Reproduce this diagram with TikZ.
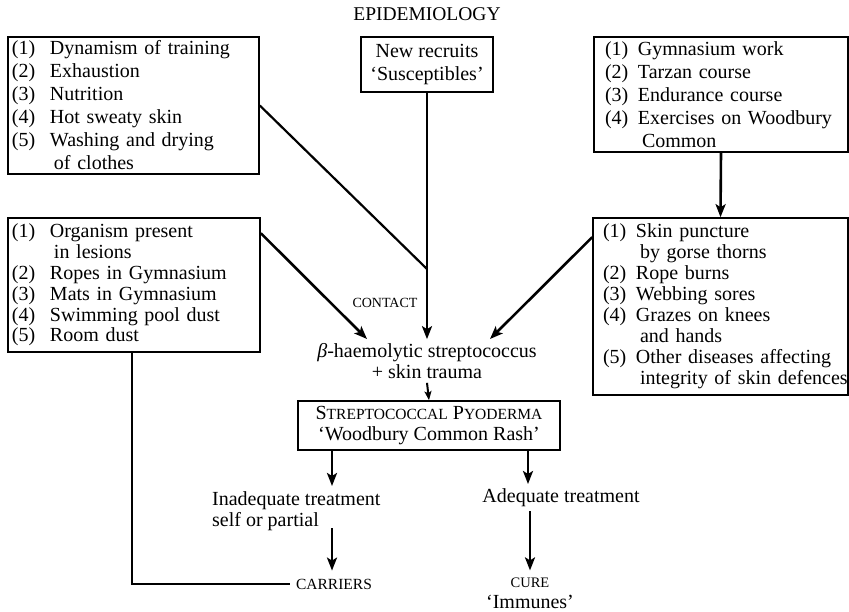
\documentclass[tikz,border=0pt]{standalone}
\usepackage{fontspec}
\setmainfont{Liberation Serif}
\usetikzlibrary{arrows.meta}
\newlength\lw \setlength\lw{38pt}
\newcommand\li[2]{\makebox[\lw][l]{(#1)}\mbox{#2}}
\newcommand\lc[1]{\hspace*{\lw}\hspace*{4pt}\mbox{#1}}
\newcommand\scs[2][14]{{\fontsize{#1}{16}\selectfont #2}}
\hbadness=10000 \hfuzz=100pt
\begin{document}
\begin{tikzpicture}[x=1pt,y=-1pt,
  box/.style={draw, line width=1.6pt, inner ysep=0pt},
  lst/.style={font=\fontsize{20}{#1}\selectfont, align=left},
  narrow/.style={font=\fontsize{20}{#1}\selectfont\setlength\lw{33pt}},
  txt/.style={inner sep=0pt, font=\fontsize{20}{21}\selectfont},
  arr/.style={line width=2.6pt, -{Stealth[length=13pt,width=10pt,inset=3pt]}},
  sarr/.style={line width=2pt, -{Stealth[length=9pt,width=7pt,inset=2pt]}},
  plain/.style={line width=2.2pt},
  thick line/.style={line width=2.8pt}]
\useasboundingbox (0,0) rectangle (849,611);

\node[txt, font=\fontsize{19.5}{21}\selectfont] (title) at (427,14) {EPIDEMIOLOGY};

\node[box, lst=23, minimum width=251pt, minimum height=137pt, text width=243pt, inner xsep=4pt] (A) at (133.5,105.5)
 {\li{1}{Dynamism of training}\\ \li{2}{Exhaustion}\\ \li{3}{Nutrition}\\ \li{4}{Hot sweaty skin}\\ \li{5}{Washing and drying}\\ \lc{of clothes}};

\node[box, font=\fontsize{20}{23}\selectfont, align=center, minimum width=132pt, minimum height=55pt] (B) at (427,64.5)
 {New recruits\\ ‘Susceptibles’};

\node[box, lst=23, narrow=23, minimum width=254pt, minimum height=115pt, text width=232pt, inner xsep=11pt] (C) at (721,94.5)
 {\li{1}{Gymnasium work}\\ \li{2}{Tarzan course}\\ \li{3}{Endurance course}\\ \li{4}{Exercises on Woodbury}\\ \lc{Common}};

\node[box, lst=20.8, minimum width=252pt, minimum height=134pt, text width=244pt, inner xsep=4pt] (D) at (134,285)
 {\li{1}{Organism present}\\ \lc{in lesions}\\ \li{2}{Ropes in Gymnasium}\\ \li{3}{Mats in Gymnasium}\\ \li{4}{Swimming pool dust}\\ \li{5}{Room dust}};

\node[box, lst=21, narrow=21, minimum width=255pt, minimum height=177pt, text width=235pt, inner xsep=10pt] (E) at (720.5,306.5)
 {\li{1}{Skin puncture}\\ \lc{by gorse thorns}\\ \li{2}{Rope burns}\\ \li{3}{Webbing sores}\\ \li{4}{Grazes on knees}\\ \lc{and hands}\\ \li{5}{Other diseases affecting}\\ \lc{integrity of skin defences}};

\node[txt, inner ysep=4pt, align=center] (beta) at (427,361)
 {{\itshape β}-haemolytic streptococcus\\ + skin trauma};

\node[txt] (contact) at (385,303) {\scs{CONTACT}};

\node[box, font=\fontsize{20}{21}\selectfont, align=center, minimum width=262pt, minimum height=49pt] (F) at (429,425.5)
 {S\scs[15.5]{TREPTOCOCCAL} P\scs[15.5]{YODERMA}\\ ‘Woodbury Common Rash’};

\node[txt, anchor=west, align=left] (inad) at (212,511.5) {Inadequate treatment\\ self or partial};
\node[txt] (ad) at (561,498) {Adequate treatment};
\node[txt, inner xsep=6pt] (car) at (334,584) {\scs[15.5]{CARRIERS}};
\node[txt, align=center] (cure) at (530,593) {\scs[14.5]{CURE}\\ ‘Immunes’};

\coordinate (j) at (427,269);
\coordinate (tl) at (367,339);
\coordinate (tr) at (490,339);
\coordinate (ia) at (332,486);
\coordinate (aa) at (528,484);

\draw[arr] (B.south) -- (beta.north);
\draw[plain] (A.east) -- (j);
\draw[arr] ([yshift=-16pt]D.north east) -- (tl);
\draw[arr] ([yshift=-20pt]E.north west) -- (tr);
\draw[arr] (C.south) -- (E.north);
\draw[sarr] (beta.south) -- (F.north);
\draw[arr] (F.south -| ia) -- (ia);
\draw[arr] (F.south -| aa) -- (aa);
\draw[arr, shorten <=-3pt, shorten >=8pt] (inad.south -| ia) -- (ia |- car.north);
\draw[arr, shorten <=4pt, shorten >=7pt] (ad.south -| cure) -- (cure.north);
\draw[thick line] ([xshift=-2pt]D.south) |- (car.west);
\end{tikzpicture}
\end{document}
